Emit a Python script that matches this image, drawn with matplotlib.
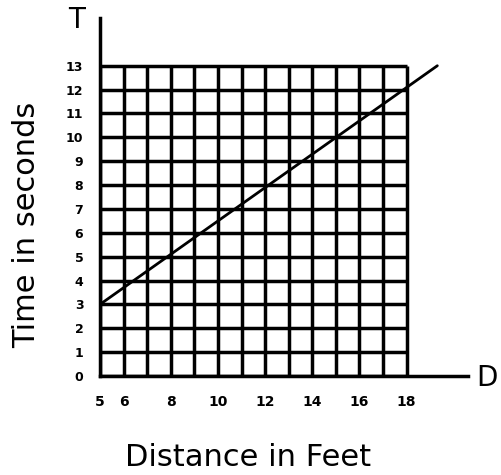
import numpy as np
import matplotlib
matplotlib.use("Agg")
import matplotlib.pyplot as plt

# grid extent (one cell per unit)
grid_d = list(range(5, 19))      # distance lines 5..18
grid_t = list(range(0, 14))      # time lines 0..13
x_ticks = [5, 6, 8, 10, 12, 14, 16, 18]
y_ticks = list(range(0, 14))

# hand-drawn line end points
line_d = [5, 19.3]
line_t = [3, 13]

fig = plt.figure(figsize=(5.01, 4.75), dpi=100)
ax = fig.add_axes([100 / 501, 99 / 475, 368 / 501, 358 / 475])
ax.set_xlim(5, 20.6)
ax.set_ylim(0, 15)

lw = 2.5
ax.vlines(grid_d, 0, 13, color="black", lw=lw)
ax.hlines(grid_t, 5, 18, color="black", lw=lw)
ax.plot(line_d, line_t, color="black", lw=2.0, solid_capstyle="round")

for s in ("top", "right"):
    ax.spines[s].set_visible(False)
ax.spines["left"].set_linewidth(lw)
ax.spines["bottom"].set_linewidth(lw)

ax.set_xticks(x_ticks)
ax.set_yticks(y_ticks)
ax.tick_params(axis="x", length=0, pad=14, labelsize=10)
ax.tick_params(axis="y", length=0, pad=12, labelsize=9)
for lab in ax.get_xticklabels() + ax.get_yticklabels():
    lab.set_fontweight("bold")

fig.text(77 / 501, 1 - 20 / 475, "T", fontsize=20, ha="center", va="center")
fig.text(487 / 501, 1 - 378 / 475, "D", fontsize=20, ha="center", va="center")
fig.text(248 / 501, 1 - 457 / 475, "Distance in Feet", fontsize=22, ha="center", va="center")
fig.text(27 / 501, 1 - 225 / 475, "Time in seconds", fontsize=22, ha="center", va="center",
         rotation=90)

fig.savefig("out.png", dpi=100)
